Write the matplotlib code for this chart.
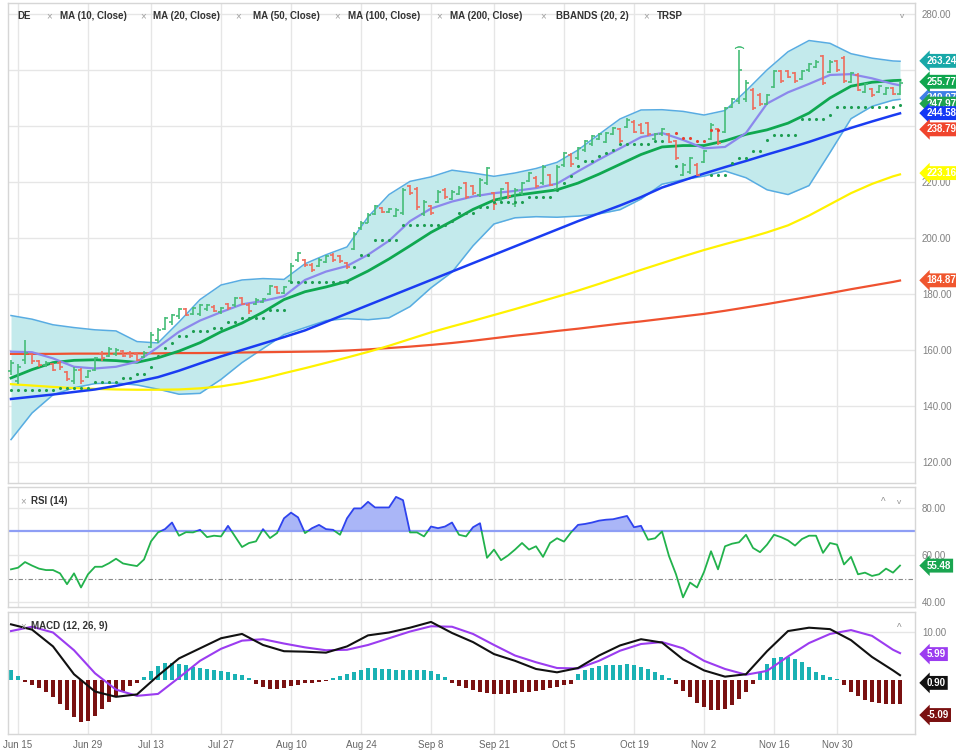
import numpy as np
import pandas as pd
import matplotlib
matplotlib.use("Agg")
import matplotlib.pyplot as plt
from matplotlib.patches import Rectangle
from matplotlib.ticker import FormatStrFormatter, FuncFormatter

plt.rcParams['font.family'] = ['Liberation Sans', 'DejaVu Sans']

# ---------------- data ----------------
holidays = pd.to_datetime(['2020-07-03', '2020-09-07', '2020-11-26'])
dates = pd.bdate_range('2020-06-12', '2020-12-11')
dates = dates[~dates.isin(holidays)]

open_ = [152.5,149,156.5,158.5,156,154.5,155,155.5,152,149,153,150.5,153,158.5,158,158.5,159.5,159,158.5,157.5,
         161,163.5,167.5,170,172,174.8,173,173,174.5,175.5,173.5,176.5,176,178.5,176,176.5,177,180,182.5,180.5,
         184.5,192,192,190.5,190,191.5,194,193.5,191,196,203.5,205.5,208.5,210.8,209.3,208,209,218.5,217.5,208.5,
         211.5,213,217.3,214,215.8,219.5,218.5,215.3,219.5,216,213.5,219.5,212,216,220.5,221.5,219.5,222.5,217.5,226,
         229.8,228.5,231.3,233.5,235.3,234.3,237,238.8,239.5,241.5,240.5,241,235.3,237,237,234.5,222.5,223.5,226.2,227,
         235.5,238.8,238,246.8,249,249.5,253,251.2,248,254,259.5,259.6,259,256.8,259.8,261,265,259.2,263.2,264.3,
         255.6,258.3,252,253.2,252,251.3,253.7,251.5]
high = [156.4,155,163.6,159,156.5,156,155.5,156,152.5,154,153.5,153,157.5,159.5,161.2,160.6,160,159.8,159,159.6,
        166.5,167.7,171.9,173,175,175,175.5,176.5,176.5,176,175.5,176.7,179,179,176.7,178.5,178.5,183.2,183,183,
        191,195,192.5,191,192.7,194,194.5,194,191.5,202.3,206,208.8,211.8,211,210.6,210.6,217.7,219,218.3,213.6,
        211.8,217.1,217.7,217,218.4,220,219,221.3,225.5,216.5,218,220,218,220,223.7,222,226,223,226,230.8,
        230.2,232.6,235,236.8,237.4,238,239.8,239.2,242.7,242,241,241.5,237.4,239.2,237.4,235,226.7,229,226.7,231.4,
        241,239.2,246.9,250,267,256.4,253.5,251.7,251.5,260,260,260,259.4,260,262.4,263.6,265.4,263.6,263.6,264.8,
        259.4,258.8,255.2,253.5,254.6,254,254,255.8]
low = [151,148,155,155,154,154,152.5,153,149,148,148,150,152.5,156,157.5,158,157.5,157,156,157,
       160.6,162.4,167,169,171,172,172.5,172,174,173.5,173,174.3,175.5,176,173,176,176.7,179.6,180,180,
       183.8,191.5,189.8,188,189.8,191,191.5,191,189,195.7,203,205.2,208.2,208.8,209,207.6,208.2,215.4,210,208,
       208.2,212.4,214,213.6,215.4,214,215.4,214.8,219,210,213,214,211,215.4,220,217.7,219,218.4,216.6,225.5,
       225.5,228,230.8,233,235,233.8,236.8,233.8,239.2,237.4,237,236.5,235,236.5,233.8,227.9,222,223,222,226.7,
       235,233.2,237.4,246.3,248,248.7,245.7,247,247.5,253.5,255.2,257,255.2,256.4,259.4,260.6,254.6,258.8,259.4,255.2,
       255.2,252.3,251.7,250.5,251.7,251,251,251]
close = [155.5,154,159,156,154.5,155.5,153,154,149.5,153,149,152.5,157,157,160.5,160,158,158,156.5,159,
         165.5,167,171.5,172.5,174.5,172.5,175,176,176,174,175,175,178.5,176.5,174,178,178.2,182.8,180.5,182.5,
         190,194.5,190.5,188.5,192.3,193.5,192,191.8,189.5,201.5,205.5,208.3,211.3,209.2,210.3,210,217,216,211,213,
         209,216.5,214.5,216.5,218,214.8,216,220.8,225,212,217.5,215,217,219.5,223.2,218.5,225.5,219,225.5,230.3,
         226.5,232,234.5,236.3,237,237.5,239.3,234.5,242.2,238,237.5,237,237,238.8,234.3,228.5,226.2,228.5,222.5,231,
         240.5,234,246.3,249.5,260,255.5,246.5,247.8,251,259.5,256,257.5,256,259.5,262,263,255.5,263,260,256,
         259,253,254.8,251,254.3,253.7,251.5,255.3]

# TRSP stops (green below price, red above price)
trsp_green = [145.7,145.7,145.7,145.7,145.7,145.7,145.7,
              146.5,146.5,146.5,146.5,146.5,
              148.4,148.4,148.4,148.4,
              149.9,149.9,151.3,151.3,153.8,157.9,160.7,162.6,165,165,
              166.7,166.7,166.7,167.9,167.9,170,170,171.3,171.3,171.3,
              171.3,174.3,174.3,174.3,184.4,184.4,184.4,184.4,184.4,184.4,
              184.4,184.4,184.4,189.8,193.9,193.9,199.3,199.3,199.3,199.3,
              204.6,204.6,204.6,204.6,204.6,204.6,204.6,206,208.8,208.8,
              208.8,211,211,213,213,213,213,213,214.5,214.5,
              214.5,214.5,217,219.7,222,225.6,227.6,227.6,229.4,230.5,
              231.5,233.4,233.4,233.4,233.4,233.4,234.5,234.5,None,225.6,
              None,None,None,None,222.5,222.5,222.5,226.7,228.4,228.4,
              231.2,231.2,235,236.8,236.8,236.8,236.8,242.4,242.4,242.4,
              242.4,244,246.9,246.9,246.9,246.9,246.9,246.9,246.9,246.9,
              246.9,247.5]
trsp_red_dates = ['2020-10-27','2020-10-28','2020-10-29','2020-10-30','2020-11-02','2020-11-03','2020-11-04']
trsp_red = [237.4,235.6,235.6,234.5,234.5,238.6,238.6]

# indicator lines, read every third session (plus the last one)
ma10 = [159.4,159.2,157,154,153.4,154,155.8,161,166.5,170.5,173.5,176.3,177.5,179.2,185,188,190,194,199,206,
        210.5,213,214.8,216,216.8,217.8,219.4,223.8,228,232,236,237.5,235,232,232.5,237.5,248,252,255,258.2,
        258.5,257,255,254.5]
ma20 = [150,153,155.5,156.3,156.5,156.2,155.6,157.2,159.6,162.6,166.5,169.6,173.5,178,180.8,182.5,184.5,188.2,192.5,197.2,
        202,206,210.2,213.5,215.2,216.2,217.2,219.6,222.8,226.3,229.8,232.5,233,233,234.7,237,238.6,241,244.6,250,
        254.2,255.6,256.2,256.3]
bb_upper = [172.3,171,169,168,167.2,166.8,163,162.5,170,178,183.2,185,185.5,185.2,190.8,194,196.8,207.5,215.5,220.2,
            221.8,224.2,223.2,222,223.2,224.8,227,231.4,237,242.5,245.7,245.8,245.2,243.9,245.5,252.5,260,266.5,270.5,269.5,
            265.8,264.2,263.2,263.1]
bb_lower = [128,137.5,144,146.5,148,148.2,147.5,146,144.2,144.5,149.5,155.5,160.5,165.5,168,170.5,171.2,170.8,171.5,175.5,
            182.2,187.8,197.2,205,207.2,207.6,207.4,207.8,208.6,210.1,213.9,219.2,220.8,222.1,223.9,221.5,217.2,215.5,218.7,230.5,
            242.6,247,249.2,249.5]
ma50 = [142.5,143.3,144.1,145,145.9,147.2,148.7,150.3,152.6,155.2,157.7,160,162.3,164.6,167,170,173,176,179,182,
        185,188,191,194,197,200,203,206,208.8,211.6,214.6,218,220.5,223,225.3,227.5,229.8,232,234.3,236.8,
        239.3,241.6,243.8,244.5]
ma100 = [147.8,147.3,146.8,146.4,146.1,145.9,145.8,145.8,145.9,146.3,147,148.2,149.8,151.7,153.5,155.4,157.3,159.3,161.5,163.9,
         166.3,168.4,170.4,172.5,174.6,176.8,179,181.2,183.6,186.1,188.6,191,193.4,195.7,197.8,199.8,202,204.5,208,212,
         216,219.3,222,222.7]
ma200 = [158.6,158.6,158.6,158.7,158.7,158.7,158.8,158.8,158.9,158.9,159.0,159.1,159.2,159.3,159.4,159.5,159.8,160.2,160.7,161.2,
         161.8,162.5,163.3,164.2,165.1,165.9,166.8,167.6,168.5,169.4,170.2,171.1,172,172.9,174,175.2,176.4,177.7,179,180.3,
         181.7,183,184.3,184.8]
macd_line = [11.6,10.5,7.0,1.2,-2.4,-3.5,-3.0,0.9,4.5,6.6,8.7,9.6,7.3,6.0,5.9,5.7,7.0,9.3,9.9,10.9,
             12.1,9.8,7.9,5.4,4.0,2.3,1.6,2.5,5.1,7.2,8.5,7.8,4.3,2.0,0.7,1.2,6.0,10.2,10.9,10.6,
             8.3,4.8,2.0,1.0]
macd_signal = [10.2,11.1,9.9,6.2,1.4,-2.0,-3.3,-2.9,0.5,4.0,6.5,8.2,8.5,7.6,6.8,6.2,6.3,7.3,8.7,10.1,
               11.2,11.1,9.6,7.3,5.1,3.7,2.5,2.4,4.0,6.1,7.5,7.9,6.6,4.0,2.3,1.1,1.9,4.9,7.7,9.6,
               10.4,9.2,6.3,5.6]

rsi = [53.9,54.6,57,55.5,54.2,53.6,53.6,52.2,47.6,52.2,46.2,51.8,55,55,56.5,58.4,56.4,55.8,55.3,58.1,
       65.8,69.6,71,73.8,68.2,69.7,69.6,70.7,67.6,68.2,67.9,72.4,67.9,63.4,65.1,65.8,71,67.2,69.3,75.6,
       78,76,69.3,71.4,72.8,71,70.7,68.6,75.6,79.8,79.8,82.6,80.2,80.2,80.2,84.7,83.3,69.6,69.6,67.9,
       72.1,71.4,72.1,73.8,68.6,67.9,71.8,73.5,58.8,62.3,57.8,59.8,62.3,65.1,62.3,63.7,59.2,65.1,67.1,65.7,
       69.6,72.8,73.2,73.8,74.6,75,75.2,75.9,76.6,71.8,72.4,66.5,67.1,70,59.5,51.8,42,48.3,46.2,52.8,
       61.6,53.9,63.7,64.8,65.4,68.6,63,61.2,64.4,68.6,67.6,66.2,64,66.8,68.2,68.2,60.9,65.1,64.4,56,
       59.2,51.8,52.5,51.1,51.8,54.2,52.5,55.5]

macd_hist = [2.1,0.9,
             -0.5,-1.0,-1.7,-2.6,-3.6,-5.0,-6.3,-7.7,-8.8,-8.6,-7.4,-6.0,-4.6,-3.4,-2.2,-1.3,-0.6,
             0.7,1.9,3.0,3.6,3.6,3.4,3.1,2.8,2.5,2.2,2.0,1.8,1.6,1.3,1.0,0.5,
             -0.8,-1.5,-1.9,-1.9,-1.7,-1.3,-1.0,-0.7,-0.55,-0.4,-0.2,
             0.35,0.75,1.25,1.7,2.1,2.4,2.4,2.3,2.2,2.1,2.1,2.1,2.1,2.1,1.9,1.25,0.55,
             -0.6,-1.2,-1.7,-2.1,-2.4,-2.7,-2.9,-3.0,-2.9,-2.8,-2.55,-2.4,-2.3,-2.1,-1.7,-1.4,-1.0,-0.75,
             1.25,2.1,2.6,3.0,3.1,3.2,3.2,3.25,3.1,2.8,2.3,1.7,1.1,0.5,
             -0.8,-2.2,-3.6,-4.8,-5.7,-6.2,-6.3,-6.0,-5.2,-3.9,-2.4,-0.8,
             1.6,3.3,4.5,4.8,4.7,4.3,3.8,2.8,1.7,1.0,0.55,0.2,
             -1.0,-2.4,-3.4,-4.1,-4.6,-4.8,-4.9,-5.0,-5.09]

tick_dates = ['2020-06-15','2020-06-29','2020-07-13','2020-07-27','2020-08-10','2020-08-24','2020-09-08',
              '2020-09-21','2020-10-05','2020-10-19','2020-11-02','2020-11-16','2020-11-30']
tick_labels = ['Jun 15','Jun 29','Jul 13','Jul 27','Aug 10','Aug 24','Sep 8','Sep 21','Oct 5','Oct 19',
               'Nov 2','Nov 16','Nov 30']
price_ticks = [120, 140, 160, 180, 200, 220, 240, 260, 280]
covered_ticks = [240, 260]   # price-axis labels hidden behind the value tags

legend_items = ['MA (10, Close)', 'MA (20, Close)', 'MA (50, Close)', 'MA (100, Close)',
                'MA (200, Close)', 'BBANDS (20, 2)', 'TRSP']

main_tags = [(263.24, '#18a8a8'), (249.97, '#3f7fe6'), (255.77, '#10a64f'), (247.97, '#1fa24f'),
             (244.58, '#1438f5'), (238.79, '#f0452d'), (223.16, '#ffff00'), (184.87, '#f0562e')]
rsi_last = 55.48
macd_tags = [('5.99', '#9b3cf0'), ('0.90', '#111111'), ('-5.09', '#7a1010')]

# ---------------- figure ----------------
W, H = 956, 752
fig = plt.figure(figsize=(W/100, H/100), dpi=100)
fig.patch.set_facecolor('white')

def rect(top, bottom, left=8, right=915):
    return [left/W, 1-bottom/H, (right-left)/W, (bottom-top)/H]

ax1 = fig.add_axes(rect(3, 483))
ax2 = fig.add_axes(rect(487, 607), sharex=ax1)
ax3 = fig.add_axes(rect(612, 734), sharex=ax1)

n = len(dates)
pos = np.arange(n)
line_pos = np.r_[pos[::3], pos[-1]]
tick_pos = dates.get_indexer(pd.to_datetime(tick_dates))

o = np.array(open_); h = np.array(high); l = np.array(low); c = np.array(close)

GRID = '#e6e6e6'
for ax in (ax1, ax2, ax3):
    ax.set_facecolor('white')
    for s in ax.spines.values():
        s.set_color('#d6d6d6'); s.set_linewidth(1)
    ax.yaxis.tick_right()
    ax.tick_params(axis='y', length=0, pad=5, labelsize=7, labelcolor='#808080')
    ax.tick_params(axis='x', length=0)
    ax.set_xticks(tick_pos)
    ax.grid(True, axis='both', color=GRID, lw=1)
    ax.set_axisbelow(True)
    ax.yaxis.set_major_formatter(FormatStrFormatter('%.2f'))

ax1.set_xlim(-0.43, 129.14)

TAGPAD = 'larrow,pad=0.2'

# ---- main panel ----
ax1.set_ylim(112.5, 283.9)
ax1.set_yticks(price_ticks)
ax1.yaxis.set_major_formatter(FuncFormatter(
    lambda v, p: '' if round(v) in covered_ticks else f'{v:.2f}'))
ax1.fill_between(line_pos, bb_lower, bb_upper, color='#c3eaec', zorder=1, lw=0)
ax1.plot(line_pos, bb_upper, color='#58ace2', lw=1.1, zorder=2)
ax1.plot(line_pos, bb_lower, color='#58ace2', lw=1.1, zorder=2)
ax1.plot(line_pos, ma200, color='#ef5230', lw=1.6, zorder=3)
ax1.plot(line_pos, ma100, color='#fff200', lw=1.6, zorder=3)
ax1.plot(line_pos, ma50, color='#1a3cf2', lw=1.8, zorder=3)
ax1.plot(line_pos, ma20, color='#0fa850', lw=2.0, zorder=3)
ax1.plot(line_pos, ma10, color='#8c88ec', lw=1.6, zorder=3)

up = c >= o
cols = np.where(up, '#46bd78', '#ef6c5c')
ax1.vlines(pos, l, h, colors=cols, lw=1.2, zorder=4)
ax1.hlines(o, pos-0.38, pos, colors=cols, lw=1.2, zorder=4)
ax1.hlines(c, pos, pos+0.38, colors=cols, lw=1.2, zorder=4)

g = np.array([np.nan if v is None else v for v in trsp_green], dtype=float)
ax1.scatter(pos, g, s=5, color='#1e9e52', zorder=5, lw=0)
rpos = dates.get_indexer(pd.to_datetime(trsp_red_dates))
ax1.scatter(rpos, trsp_red, s=5, color='#e8402e', zorder=5, lw=0)
# event marker above the tall bar
k = int(np.argmax(h))
ax1.scatter([k], [h[k] + 1.3], marker=r'$\frown$', s=40, color='#46bd78', zorder=5, lw=0.5)

ytr = ax1.get_yaxis_transform()
for val, colr in main_tags:
    ax1.text(1.013, val, f'{val:.2f}', transform=ytr, ha='left', va='center', fontsize=7,
             fontweight='bold', color='white', clip_on=False, zorder=20,
             bbox=dict(boxstyle=TAGPAD, fc=colr, ec='none'))

# legend row
fy = 1 - 16/H
fig.text(17/W, fy, 'DE', fontsize=7, fontweight='bold', color='#333333', va='center')
xs_x = [49, 143, 238, 337, 439, 543, 646]
xs_t = [60, 153, 253, 348, 450, 556, 657]
for xx, xt, lab in zip(xs_x, xs_t, legend_items):
    fig.text(xx/W, fy, '×', fontsize=7, color='#a0a0a0', va='center', ha='center')
    fig.text(xt/W, fy, lab, fontsize=7, fontweight='bold', color='#333333', va='center')
fig.text(902/W, fy, 'v', fontsize=6, color='#909090', va='center', ha='center')

# ---- RSI panel ----
r = np.array(rsi)
ax2.set_ylim(37.9, 88.9)
ax2.set_yticks([40, 60, 80])
ax2.fill_between(pos, 70, r, where=r >= 70, interpolate=True, color='#aab6f7', lw=0, zorder=2)
ax2.axhline(70, color='#8e9ef5', lw=1.6, zorder=2)
ax2.axhline(50, color='#8a8a8a', lw=0.8, ls=(0, (4, 2, 1, 2)), zorder=2)
lg, = ax2.plot(pos, r, color='#22b24c', lw=1.3, zorder=3)
lb, = ax2.plot(pos, r, color='#2f43ee', lw=1.3, zorder=3)
lb.set_clip_path(Rectangle((-10, 70), 200, 100, transform=ax2.transData))
lg.set_clip_path(Rectangle((-10, -10), 200, 80, transform=ax2.transData))
ax2.text(1.013, rsi_last, f'{rsi_last:.2f}', transform=ax2.get_yaxis_transform(), ha='left', va='center',
         fontsize=7, fontweight='bold', color='white', clip_on=False, zorder=20,
         bbox=dict(boxstyle=TAGPAD, fc='#1aa550', ec='none'))
fig.text(23/W, 1-501/H, '×', fontsize=7, color='#a0a0a0', va='center', ha='center')
fig.text(31/W, 1-501/H, 'RSI (14)', fontsize=7, fontweight='bold', color='#333333', va='center')
fig.text(883/W, 1-502/H, '^', fontsize=7, color='#909090', va='center', ha='center')
fig.text(899/W, 1-502/H, 'v', fontsize=6, color='#909090', va='center', ha='center')

# ---- MACD panel ----
hh = np.array(macd_hist)
ax3.set_ylim(-11.25, 14.17)
ax3.set_yticks([10])
ax3.bar(pos, hh, width=0.62, color=np.where(hh > 0, '#1ab2b4', '#7a1111'), zorder=2)
ax3.plot(line_pos, macd_signal, color='#9b3cf0', lw=1.5, zorder=3)
ax3.plot(line_pos, macd_line, color='#111111', lw=1.5, zorder=4)
ytr3 = ax3.get_yaxis_transform()
for (txt, colr), yv in zip(macd_tags, [5.4, -0.6, -7.3]):
    ax3.text(1.013, yv, txt, transform=ytr3, ha='left', va='center', fontsize=7, fontweight='bold',
             color='white', clip_on=False, zorder=20,
             bbox=dict(boxstyle=TAGPAD, fc=colr, ec='none'))
fig.text(23/W, 1-626/H, '×', fontsize=7, color='#a0a0a0', va='center', ha='center')
fig.text(31/W, 1-626/H, 'MACD (12, 26, 9)', fontsize=7, fontweight='bold', color='#333333', va='center')
fig.text(899/W, 1-628/H, '^', fontsize=7, color='#909090', va='center', ha='center')

ax1.tick_params(axis='x', labelbottom=False)
ax2.tick_params(axis='x', labelbottom=False)
ax3.set_xticklabels(tick_labels)
ax3.tick_params(axis='x', labelsize=7, labelcolor='#666666', pad=4)

fig.savefig('out.png', dpi=100, facecolor='white')
